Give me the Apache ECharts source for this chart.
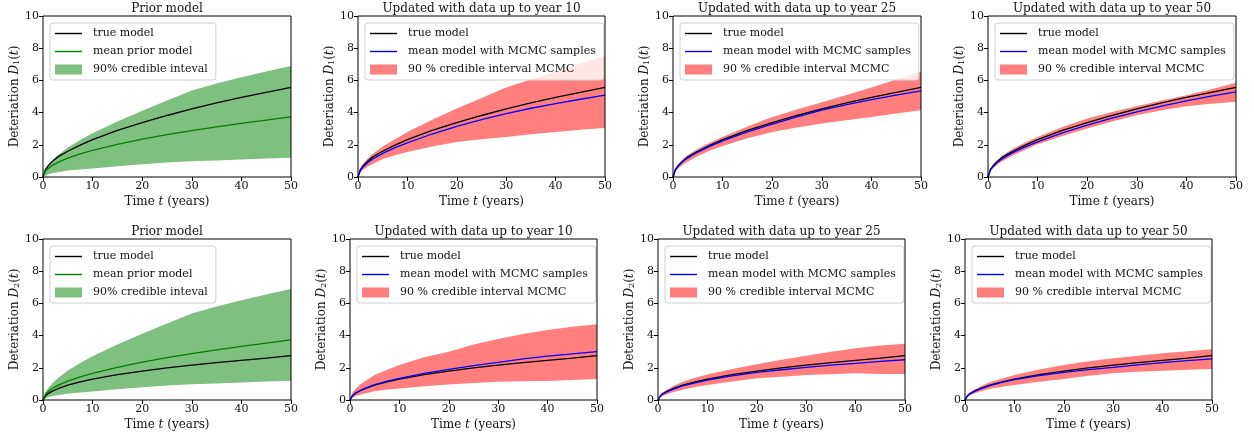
<!DOCTYPE html>
<html>
<head>
<meta charset="utf-8">
<script src="https://cdn.jsdelivr.net/npm/echarts@6/dist/echarts.min.js"></script>
<style>
    html, body {margin: 0; padding: 0; background: #fff;}
    #main {width: 1254px; height: 438px;}
</style>
</head>
<body>
<div id="main"></div>
<script>
// 时间采样点 (years)
var years = [0, 0.5, 1, 2, 3, 5, 7.5, 10, 15, 20, 25, 30, 35, 40, 45, 50];

// true models
var trueD1 = [0, 0.48, 0.68, 1.0, 1.25, 1.6, 1.98, 2.32, 2.9, 3.38, 3.82, 4.23, 4.6, 4.94, 5.26, 5.56];
var trueD2 = [0, 0.25, 0.4, 0.57, 0.7, 0.93, 1.13, 1.3, 1.58, 1.8, 2.0, 2.17, 2.32, 2.46, 2.6, 2.75];

// prior (same for D1 and D2)
var priorMean = [0, 0.37, 0.52, 0.74, 0.91, 1.17, 1.44, 1.66, 2.03, 2.35, 2.63, 2.88, 3.11, 3.33, 3.53, 3.73];
var priorUpper = [0, 0.47, 0.72, 1.07, 1.35, 1.83, 2.3, 2.72, 3.45, 4.12, 4.75, 5.38, 5.8, 6.2, 6.55, 6.89];
var priorLower = [0, 0.1, 0.17, 0.25, 0.3, 0.4, 0.47, 0.53, 0.67, 0.79, 0.9, 0.98, 1.03, 1.08, 1.15, 1.2];

// D1 posterior
var d1Mean10 = [0, 0.42, 0.62, 0.9, 1.12, 1.47, 1.82, 2.12, 2.67, 3.15, 3.57, 3.94, 4.27, 4.56, 4.83, 5.08];
var d1Upper10 = [0, 0.55, 0.8, 1.17, 1.45, 1.9, 2.35, 2.8, 3.55, 4.25, 4.9, 5.56, 6.05, 6.54, 7.03, 7.51];
var d1Lower10 = [0, 0.3, 0.45, 0.65, 0.8, 1.12, 1.35, 1.56, 1.9, 2.18, 2.35, 2.49, 2.65, 2.8, 2.93, 3.05];

var d1Mean25 = [0, 0.45, 0.66, 0.96, 1.19, 1.55, 1.92, 2.24, 2.8, 3.28, 3.73, 4.15, 4.5, 4.81, 5.08, 5.35];
var d1Upper25 = [0, 0.55, 0.78, 1.12, 1.37, 1.76, 2.15, 2.49, 3.14, 3.73, 4.2, 4.65, 5.1, 5.56, 6.05, 6.53];
var d1Lower25 = [0, 0.35, 0.52, 0.78, 0.97, 1.3, 1.64, 1.93, 2.4, 2.8, 3.07, 3.32, 3.52, 3.73, 3.95, 4.15];

var d1Mean50 = [0, 0.44, 0.64, 0.94, 1.16, 1.51, 1.87, 2.18, 2.74, 3.22, 3.65, 4.05, 4.4, 4.73, 5.02, 5.29];
var d1Upper50 = [0, 0.55, 0.78, 1.1, 1.35, 1.75, 2.15, 2.49, 3.1, 3.63, 4.04, 4.4, 4.75, 5.08, 5.45, 5.85];
var d1Lower50 = [0, 0.36, 0.53, 0.8, 1.0, 1.33, 1.7, 2.03, 2.55, 3.01, 3.45, 3.84, 4.15, 4.4, 4.55, 4.67];

// D2 posterior
var d2Mean10 = [0, 0.28, 0.4, 0.58, 0.72, 0.96, 1.17, 1.35, 1.65, 1.9, 2.13, 2.34, 2.55, 2.73, 2.87, 3.0];
var d2Upper10 = [0, 0.45, 0.65, 0.95, 1.17, 1.55, 1.88, 2.17, 2.65, 3.0, 3.45, 3.79, 4.1, 4.35, 4.55, 4.7];
var d2Lower10 = [0, 0.15, 0.22, 0.33, 0.4, 0.55, 0.65, 0.72, 0.85, 0.97, 1.05, 1.14, 1.16, 1.18, 1.25, 1.3];

var d2Mean25 = [0, 0.26, 0.37, 0.53, 0.66, 0.88, 1.07, 1.24, 1.5, 1.72, 1.88, 2.03, 2.16, 2.28, 2.4, 2.5];
var d2Upper25 = [0, 0.34, 0.48, 0.69, 0.85, 1.13, 1.38, 1.59, 1.93, 2.22, 2.5, 2.75, 3.0, 3.21, 3.38, 3.5];
var d2Lower25 = [0, 0.18, 0.26, 0.38, 0.48, 0.64, 0.8, 0.93, 1.15, 1.35, 1.45, 1.55, 1.6, 1.66, 1.62, 1.61];

var d2Mean50 = [0, 0.26, 0.38, 0.54, 0.67, 0.89, 1.09, 1.26, 1.52, 1.72, 1.89, 2.03, 2.18, 2.32, 2.44, 2.55];
var d2Upper50 = [0, 0.33, 0.47, 0.67, 0.83, 1.1, 1.34, 1.55, 1.9, 2.17, 2.4, 2.59, 2.75, 2.9, 3.03, 3.15];
var d2Lower50 = [0, 0.2, 0.29, 0.42, 0.52, 0.7, 0.83, 0.93, 1.13, 1.3, 1.5, 1.66, 1.75, 1.82, 1.88, 1.93];

var xTicks = [0, 10, 20, 30, 40, 50];
var yTicks = [0, 2, 4, 6, 8, 10];

var FONT = '"DejaVu Serif", "Liberation Serif", serif';
var TXT = '#111';

var GREEN = '#008000';
var GREEN_BAND = 'rgba(0,128,0,0.5)';
var RED_BAND = 'rgba(255,0,0,0.5)';
var BLUE = '#0000ff';

// 图例里的线段图标
var LINE_ICON = 'path://M0,0L27,0L27,1.4L0,1.4Z';

var priorNames = ['mean prior model', '90% credible inteval'];
var mcmcNames = ['mean model with MCMC samples', '90 % credible interval MCMC'];

var ROW_TOP = [16, 239];
var PLOT_H = 161;

var panels = [
    {row: 0, left: 43, width: 248, title: 'Prior model', sub: '1', truth: trueD1, mean: priorMean, lower: priorLower, upper: priorUpper, prior: true},
    {row: 0, left: 358, width: 247, title: 'Updated with data up to year 10', sub: '1', truth: trueD1, mean: d1Mean10, lower: d1Lower10, upper: d1Upper10},
    {row: 0, left: 673, width: 248, title: 'Updated with data up to year 25', sub: '1', truth: trueD1, mean: d1Mean25, lower: d1Lower25, upper: d1Upper25},
    {row: 0, left: 988, width: 248, title: 'Updated with data up to year 50', sub: '1', truth: trueD1, mean: d1Mean50, lower: d1Lower50, upper: d1Upper50},
    {row: 1, left: 43, width: 248, title: 'Prior model', sub: '2', truth: trueD2, mean: priorMean, lower: priorLower, upper: priorUpper, prior: true},
    {row: 1, left: 350, width: 247, title: 'Updated with data up to year 10', sub: '2', truth: trueD2, mean: d2Mean10, lower: d2Lower10, upper: d2Upper10},
    {row: 1, left: 658, width: 247, title: 'Updated with data up to year 25', sub: '2', truth: trueD2, mean: d2Mean25, lower: d2Lower25, upper: d2Upper25},
    {row: 1, left: 965, width: 247, title: 'Updated with data up to year 50', sub: '2', truth: trueD2, mean: d2Mean50, lower: d2Lower50, upper: d2Upper50}
];

function pairs(ys) {
    return years.map(function (t, i) { return [t, ys[i]]; });
}

var richName = {
    r: {fontFamily: FONT, fontSize: 12, color: TXT},
    i: {fontFamily: FONT, fontSize: 12, fontStyle: 'italic', color: TXT},
    s: {fontFamily: FONT, fontSize: 8, color: TXT, verticalAlign: 'bottom'}
};

var grids = [], xAxes = [], yAxes = [], series = [], legends = [], graphics = [];

for (var i = 0; i < panels.length; i++) {
    var p = panels[i];
    var gridTop = ROW_TOP[p.row];   // 注意: 不能用 top (window.top)
    var names = p.prior ? priorNames : mcmcNames;
    var meanColor = p.prior ? GREEN : BLUE;
    var bandColor = p.prior ? GREEN_BAND : RED_BAND;

    grids.push({
        left: p.left, top: gridTop, width: p.width, height: PLOT_H,
        show: true, borderColor: '#000', borderWidth: 1, backgroundColor: 'transparent', z: 10
    });

    xAxes.push({
        gridIndex: i, type: 'value', min: xTicks[0], max: xTicks[xTicks.length - 1], interval: 10,
        axisLine: {show: false},
        axisTick: {show: true, inside: false, length: 4, lineStyle: {color: '#000'}},
        axisLabel: {fontFamily: FONT, fontSize: 11, color: TXT, margin: 4},
        splitLine: {show: false},
        name: '{r|Time }{i|t}{r| (years)}',
        nameLocation: 'middle', nameGap: 19,
        nameTextStyle: {rich: richName}
    });

    yAxes.push({
        gridIndex: i, type: 'value', min: yTicks[0], max: yTicks[yTicks.length - 1], interval: 2,
        axisLine: {show: false},
        axisTick: {show: true, inside: false, length: 4, lineStyle: {color: '#000'}},
        axisLabel: {fontFamily: FONT, fontSize: 11, color: TXT, margin: 4},
        splitLine: {show: false},
        name: '{r|Deteriation }{i|D}{s|' + p.sub + '}{r|(}{i|t}{r|)}',
        nameLocation: 'middle', nameGap: 22, nameRotate: 90,
        nameTextStyle: {rich: richName}
    });

    // 置信区间: 上界填色, 下界以下用白色盖住
    series.push({
        type: 'line', name: names[1], xAxisIndex: i, yAxisIndex: i,
        data: pairs(p.upper), symbol: 'none', silent: true,
        color: bandColor,
        lineStyle: {opacity: 0},
        areaStyle: {color: bandColor, opacity: 1}
    });
    series.push({
        type: 'line', name: 'lower' + i, xAxisIndex: i, yAxisIndex: i,
        data: pairs(p.lower), symbol: 'none', silent: true,
        color: '#fff',
        lineStyle: {opacity: 0},
        areaStyle: {color: '#fff', opacity: 1}
    });
    series.push({
        type: 'line', name: 'true model', xAxisIndex: i, yAxisIndex: i,
        data: pairs(p.truth), symbol: 'none', silent: true,
        color: '#000', lineStyle: {color: '#000', width: 1.3}
    });
    series.push({
        type: 'line', name: names[0], xAxisIndex: i, yAxisIndex: i,
        data: pairs(p.mean), symbol: 'none', silent: true,
        color: meanColor, lineStyle: {color: meanColor, width: 1.3}
    });

    legends.push({
        left: p.left + 7, top: gridTop + 7, orient: 'vertical',
        data: [
            {name: 'true model', icon: LINE_ICON},
            {name: names[0], icon: LINE_ICON},
            {name: names[1], icon: 'rect'}
        ],
        itemWidth: 27, itemHeight: 10, itemGap: 7,
        padding: [5, 8, 5, 5],
        borderColor: '#d0d0d0', borderWidth: 1, borderRadius: 3,
        backgroundColor: 'rgba(255,255,255,0.8)',
        selectedMode: false,
        textStyle: {fontFamily: FONT, fontSize: 11, color: TXT, padding: [0, 0, 0, 6]}
    });

    graphics.push({
        type: 'text', x: p.left + p.width / 2, y: gridTop - 7,
        style: {text: p.title, font: '12px ' + FONT, fill: TXT, textAlign: 'center', textVerticalAlign: 'middle'}
    });
}

var chart = echarts.init(document.getElementById('main'));
chart.setOption({
    animation: false,
    backgroundColor: '#fff',
    grid: grids,
    xAxis: xAxes,
    yAxis: yAxes,
    legend: legends,
    series: series,
    graphic: graphics
});
</script>
</body>
</html>
